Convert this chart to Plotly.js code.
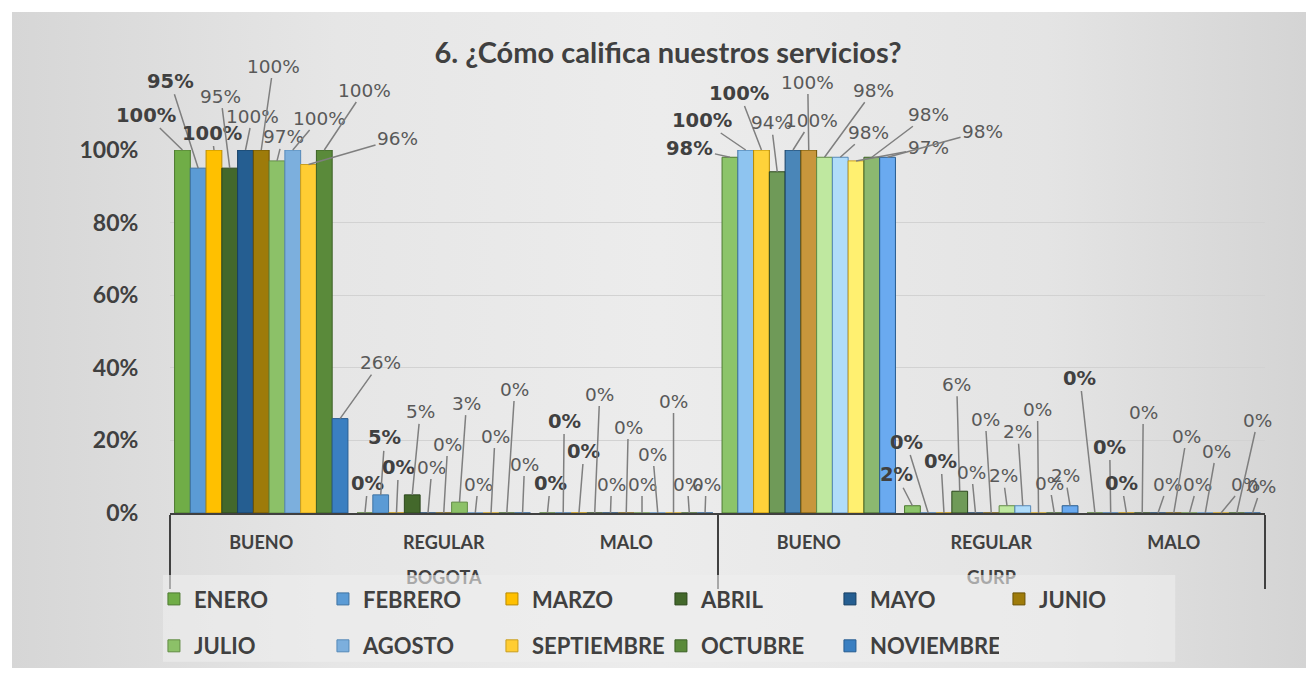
<!DOCTYPE html>
<html><head><meta charset="utf-8">
<script src="https://cdn.plot.ly/plotly-3.0.1.min.js"></script>
<style>
html,body{margin:0;padding:0;background:#fff;}
#chart{position:absolute;left:12px;top:12px;width:1294px;height:656px;
background:linear-gradient(to right,#d6d6d6 0%,#e6e6e6 25%,#ececec 50%,#e4e4e4 80%,#d4d4d4 100%);}
</style></head><body><div id="chart"></div>
<script>
// ---- data ----
const sites = ["BOGOTA","BOGOTA","BOGOTA","GURP","GURP","GURP"];
const ratings = ["BUENO","REGULAR","MALO","BUENO","REGULAR","MALO"];
const months = ["ENERO","FEBRERO","MARZO","ABRIL","MAYO","JUNIO","JULIO","AGOSTO","SEPTIEMBRE","OCTUBRE","NOVIEMBRE"];
// values: BOGOTA BUENO, REGULAR, MALO, GURP BUENO, REGULAR, MALO
const enero      = [1.00, 0.00, 0.00, 0.98, 0.02, 0.00];
const febrero    = [0.95, 0.05, 0.00, 1.00, 0.00, 0.00];
const marzo      = [1.00, 0.00, 0.00, 1.00, 0.00, 0.00];
const abril      = [0.95, 0.05, 0.00, 0.94, 0.06, 0.00];
const mayo       = [1.00, 0.00, 0.00, 1.00, 0.00, 0.00];
const junio      = [1.00, 0.00, 0.00, 1.00, 0.00, 0.00];
const julio      = [0.97, 0.03, 0.00, 0.98, 0.02, 0.00];
const agosto     = [1.00, 0.00, 0.00, 0.98, 0.02, 0.00];
const septiembre = [0.96, 0.00, 0.00, 0.97, 0.00, 0.00];
const octubre    = [1.00, 0.00, 0.00, 0.98, 0.00, 0.00];
const noviembre  = [0.26, 0.00, 0.00, 0.98, 0.02, 0.00];
const seriesValues = [enero,febrero,marzo,abril,mayo,junio,julio,agosto,septiembre,octubre,noviembre];

// ---- styles ----
const fills = ["#70AD47","#5B9BD5","#FFC000","#43682B","#255E91","#9E7B0A","#8CC168","#7CAFDD","#FFCD33","#5A8A3A","#3A7FC1"];
const fillsGurp = ["#8CC46A","#8EC4F0","#FFD23A","#6F9A58","#4A86B8","#C8963C","#BFE8A0","#B0DCFA","#FFF070","#8CB870","#6AAAF0"];
const edges = ["#4E7A31","#3F73A3","#B88A00","#2C471C","#173F63","#6B5205","#628C45","#5589B8","#C99E1E","#3C6026","#275C90"];
const boldLabel = [true,true,true,false,false,false,false,false,false,false,false];
// label offsets in px [ax, ay] per category (rows) and series (cols)
const labelOffsets = [
 [[-36,-35],[-28,-87],[-2,-17],[-9,-72],[7,-34],[12,-84],[6,-24],[27,-32],[89,-26],[40,-60],[40,-56]],
 [[3,-30],[4,-57],[2,-46],[8,-83],[4,-46],[4,-69],[7,-99],[3,-29],[4,-77],[8,-124],[2,-49]],
 [[3,-30],[1,-92],[5,-62],[5,-119],[1,-29],[2,-86],[0,-29],[-5,-59],[0,-112],[-2,-29],[1,-29]],
 [[-40,-9],[-44,-30],[-22,-57],[-6,-49],[19,-30],[-1,-68],[49,-67],[28,-25],[72,-13],[57,-43],[95,-26]],
 [[-16,-31],[-22,-71],[-3,-52],[-3,-107],[-4,-41],[-6,-94],[-4,-30],[-5,-74],[-1,-104],[-5,-30],[-5,-30]],
 [[-15,-135],[-1,-66],[-5,-30],[1,-101],[10,-29],[13,-77],[8,-29],[11,-62],[24,-29],[21,-93],[9,-27]]
];
const BARGAP = 0.05;

const traces = months.map((m,i)=>({
  type:'bar', name:m, x:[sites, ratings], y:seriesValues[i],
  marker:{color: sites.map(s => s==='GURP' ? fillsGurp[i] : fills[i]), line:{color:edges[i], width:1}},
  legend: i<6 ? 'legend' : 'legend2',
  hoverinfo:'skip'
}));

const n = months.length;
const slot = (1-BARGAP)/n;
const annotations = [];
seriesValues.forEach((vals,i)=>{
  vals.forEach((v,c)=>{
    const off = labelOffsets[c][i];
    annotations.push({
      xref:'x2', yref:'y', x: c - (1-BARGAP)/2 + (i+0.5)*slot, y: v,
      text: Math.round(v*100)+'%', showarrow:true, arrowhead:0, arrowwidth:1.5,
      arrowcolor:'#7f7f7f', ax:off[0], ay:off[1], standoff:0,
      font:{family:'DejaVu Sans', size: boldLabel[i]?19.5:18.5, color: boldLabel[i]?'#404040':'#595959', weight: boldLabel[i]?'bold':'normal'}
    });
  });
});

const legendCommon = {
  orientation:'h', xref:'container', yref:'container', x:0.1097, xanchor:'left', yanchor:'middle',
  entrywidth:124, entrywidthmode:'pixels', bgcolor:'rgba(0,0,0,0)',
  font:{family:'Lato', size:22, color:'#404040', weight:'bold'}
};

const layout = {
  width:1294, height:656,
  paper_bgcolor:'rgba(0,0,0,0)', plot_bgcolor:'rgba(0,0,0,0)',
  margin:{l:158, r:41, t:138, b:155},
  barmode:'group', bargap:BARGAP, bargroupgap:0,
  title:{text:'6. ¿Cómo califica nuestros servicios?', xref:'container', x:0.507, xanchor:'center',
         yref:'container', y:0.937, yanchor:'middle',
         font:{family:'Lato', size:29, color:'#404040', weight:'bold'}},
  xaxis:{type:'multicategory', showdividers:true, dividercolor:'#404040', dividerwidth:2,
         showline:true, linecolor:'#404040', linewidth:2, showgrid:false,
         ticklabelstandoff:12,
         ticksuffix:'<br><span style="color:rgba(0,0,0,0)">.</span>',
         tickfont:{family:'Lato', size:18, color:'#404040', weight:'bold'}},
  xaxis2:{overlaying:'x', anchor:'y', range:[-0.5,5.5], visible:false},
  yaxis:{range:[0,1], dtick:0.2, tickformat:'.0%', gridcolor:'#d2d2d2', gridwidth:1,
         zeroline:false, showline:false, ticks:'outside', ticklen:26, tickcolor:'rgba(0,0,0,0)',
         tickfont:{family:'Lato', size:23, color:'#404040', weight:'bold'}},
  legend:Object.assign({}, legendCommon, {y:0.105}),
  legend2:Object.assign({}, legendCommon, {y:0.0335}),
  shapes:[{type:'rect', xref:'paper', yref:'paper', x0:-0.0064, x1:0.918, y0:-0.41, y1:-0.171,
           fillcolor:'rgba(238,238,238,0.6)', line:{width:0}, layer:'above'}],
  annotations:annotations,
  showlegend:true
};

Plotly.newPlot('chart', traces, layout, {displayModeBar:false, staticPlot:true});
</script></body></html>
